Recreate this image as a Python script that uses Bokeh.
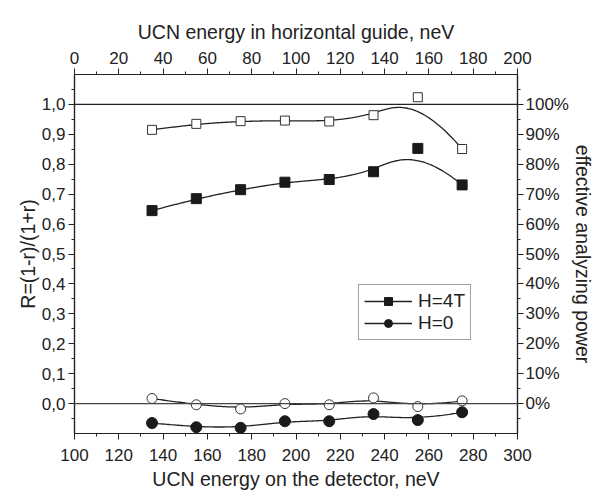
import numpy as np
from bokeh.plotting import figure
from bokeh.models import (Range1d, LinearAxis, FixedTicker, CustomJSTickFormatter,
                          Span, Legend, LegendItem)
from bokeh.embed import file_html
from bokeh.resources import INLINE

# ---- data ----
energy_detector = [135, 155, 175, 195, 215, 235, 255, 275]
open_squares = [0.915, 0.935, 0.944, 0.946, 0.943, 0.964, 1.024, 0.851]
filled_squares = [0.645, 0.685, 0.715, 0.740, 0.749, 0.775, 0.853, 0.731]
open_circles = [0.017, -0.004, -0.018, 0.0, -0.004, 0.019, -0.010, 0.009]
filled_circles = [-0.065, -0.079, -0.081, -0.059, -0.059, -0.035, -0.055, -0.029]

bottom_ticks = list(range(100, 301, 20))
top_ticks = list(range(0, 201, 20))
left_ticks = [round(i * 0.1, 1) for i in range(0, 11)]

FONT = "Liberation Sans"
TXT = "#222222"
TICK_FS = "17px"
TITLE_FS = "19.5px"


def bspline(xs, ys, n=300, k=3):
    xs = np.asarray(xs, float)
    ys = np.asarray(ys, float)
    m = len(xs)
    inner = np.arange(1, m - k)
    t = np.concatenate([np.zeros(k + 1), inner, np.full(k + 1, m - k)]).astype(float)
    u = np.linspace(0, m - k, n)
    u[-1] -= 1e-9

    def basis(i, p, uu):
        if p == 0:
            return ((t[i] <= uu) & (uu < t[i + 1])).astype(float)
        a = np.zeros_like(uu)
        b = np.zeros_like(uu)
        if t[i + p] != t[i]:
            a = (uu - t[i]) / (t[i + p] - t[i]) * basis(i, p - 1, uu)
        if t[i + p + 1] != t[i + 1]:
            b = (t[i + p + 1] - uu) / (t[i + p + 1] - t[i + 1]) * basis(i + 1, p - 1, uu)
        return a + b

    B = np.array([basis(i, k, u) for i in range(m)])
    return B.T @ xs, B.T @ ys


p = figure(width=596, height=494, output_backend="svg", toolbar_location=None,
           x_range=Range1d(100, 300), y_range=Range1d(-0.1, 1.1),
           x_axis_location="below", y_axis_location="left",
           min_border_left=74, min_border_right=79, min_border_top=74, min_border_bottom=61)
p.extra_x_ranges = {"top": Range1d(0, 200)}
p.extra_y_ranges = {"right": Range1d(-0.1, 1.1)}
p.xgrid.visible = False
p.ygrid.visible = False
p.outline_line_color = "#222222"
p.outline_line_width = 1.2
p.background_fill_color = "white"
p.border_fill_color = "white"


def style(ax):
    ax.axis_line_color = "#222222"
    ax.axis_line_width = 1.2
    ax.major_tick_line_color = "#222222"
    ax.minor_tick_line_color = "#222222"
    ax.major_tick_out = 6
    ax.major_tick_in = 0
    ax.minor_tick_out = 3
    ax.minor_tick_in = 0
    ax.major_label_text_font = FONT
    ax.major_label_text_font_size = TICK_FS
    ax.major_label_text_color = TXT
    ax.axis_label_text_font = FONT
    ax.axis_label_text_font_size = TITLE_FS
    ax.axis_label_text_font_style = "normal"
    ax.axis_label_text_color = TXT


minor_y = [round(-0.05 + 0.1 * i, 2) for i in range(12)]

xb = p.xaxis[0]
xb.ticker = FixedTicker(ticks=bottom_ticks, minor_ticks=list(range(110, 300, 20)))
xb.axis_label = "UCN energy on the detector, neV"
style(xb)
xb.major_label_standoff = 9
xb.axis_label_standoff = 4

yl = p.yaxis[0]
yl.ticker = FixedTicker(ticks=left_ticks, minor_ticks=minor_y)
yl.formatter = CustomJSTickFormatter(code="return tick.toFixed(1).replace('.', ',');")
yl.axis_label = "R=(1-r)/(1+r)"
style(yl)
yl.major_label_standoff = 3
yl.axis_label_standoff = 0

xt = LinearAxis(x_range_name="top", axis_label="UCN energy in horizontal guide, neV")
xt.ticker = FixedTicker(ticks=top_ticks, minor_ticks=list(range(10, 200, 20)))
style(xt)
xt.major_label_standoff = 5
xt.axis_label_standoff = 6
p.add_layout(xt, "above")

yr = LinearAxis(y_range_name="right", axis_label="effective analyzing power")
yr.ticker = FixedTicker(ticks=left_ticks, minor_ticks=minor_y)
yr.formatter = CustomJSTickFormatter(code="return Math.round(tick*100) + '%';")
style(yr)
yr.major_tick_out = 6
yr.major_label_standoff = 2
yr.axis_label_standoff = 0
p.add_layout(yr, "right")

p.add_layout(Span(location=1.0, dimension="width", line_color="#222222", line_width=1.2))
p.add_layout(Span(location=0.0, dimension="width", line_color="#444444", line_width=1.2))

series = [
    (open_squares, "square", "white", "#333333", 9),
    (filled_squares, "square", "#1a1a1a", "#1a1a1a", 10),
    (open_circles, "circle", "white", "#333333", 10),
    (filled_circles, "circle", "#1a1a1a", "#1a1a1a", 11),
]
rends = []
for ys, marker, fill, line, size in series:
    cx, cy = bspline(energy_detector, ys)
    lr = p.line(cx, cy, line_color="#222222", line_width=1.3)
    sr = p.scatter(energy_detector, ys, marker=marker, size=size, fill_color=fill,
                   line_color=line, line_width=1)
    rends.append((lr, sr))

legend = Legend(items=[
    LegendItem(label="H=4T", renderers=[rends[1][0], rends[1][1]]),
    LegendItem(label="H=0", renderers=[rends[3][0], rends[3][1]]),
], location=(284, 93))
legend.label_text_font = FONT
legend.label_text_font_size = "19px"
legend.label_text_color = TXT
legend.glyph_width = 48
legend.glyph_height = 20
legend.label_standoff = 6
legend.padding = 5
legend.spacing = 0
legend.margin = 0
legend.border_line_color = "#444444"
legend.border_line_width = 1
legend.background_fill_alpha = 1
p.add_layout(legend, "center")

open("out.html", "w").write(file_html(p, INLINE))
